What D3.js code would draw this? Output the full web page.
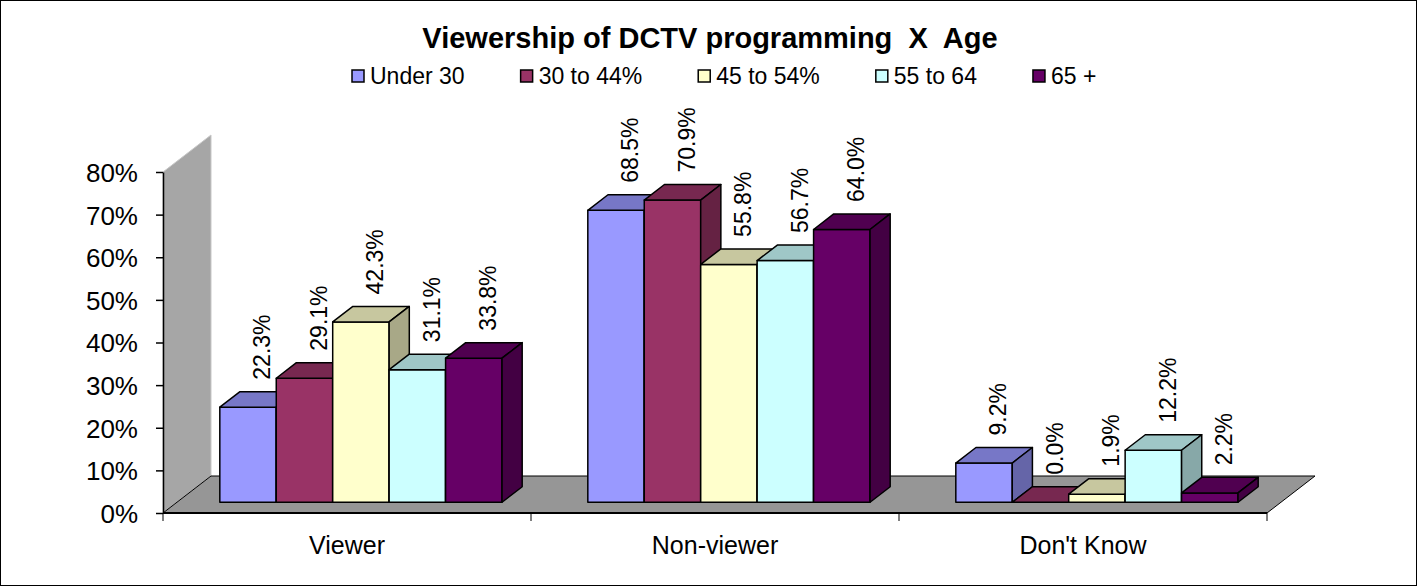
<!DOCTYPE html>
<html>
<head>
<meta charset="utf-8">
<script src="https://cdn.jsdelivr.net/npm/d3@7"></script>
<style>
  html, body { margin: 0; padding: 0; background: #fff; }
  svg text { font-family: "Liberation Sans", Arial, sans-serif; fill: #000; }
</style>
</head>
<body>
<svg id="chart" width="1418" height="587"></svg>
<script>
// chart values
const categories = ["Viewer", "Non-viewer", "Don't Know"]
const seriesNames = ["Under 30", "30 to 44%", "45 to 54%", "55 to 64", "65 +"]
const under30 = [22.3, 68.5, 9.2]
const age30to44 = [29.1, 70.9, 0.0]
const age45to54 = [42.3, 55.8, 1.9]
const age55to64 = [31.1, 56.7, 12.2]
const age65plus = [33.8, 64.0, 2.2]
const yTicks = [0, 10, 20, 30, 40, 50, 60, 70, 80]
const seriesColors = ["#9999ff", "#993366", "#ffffcc", "#ccffff", "#660066"]

const seriesValues = [under30, age30to44, age45to54, age55to64, age65plus]

/*
  Draws a clustered bar chart with a fake 3d look, like the old office charts
*/
class Bar3DChart {
  /**
   * constructor()
   * @description sets up the scales and the 3d offsets
   * @param {String} selector the svg to draw into
   */
  constructor(selector) {
    this._svg = d3.select(selector)
    this._plot = { left: 163, right: 1267, top: 172, bottom: 513 }
    // offset of the back wall, and of the bar front / back planes
    this._depth = { dx: 48, dy: -37 }
    this._front = 0.29
    this._back = 0.71

    this._y = d3.scaleLinear().domain([0, 80]).range([this._plot.bottom, this._plot.top])
    this._x = d3.scaleBand().domain(categories).range([this._plot.left, this._plot.right])
    this._xs = d3.scaleBand().domain(seriesNames).range([0, this._x.bandwidth()]).paddingOuter(0.76)
  }

  /**
   * shade()
   * @description darker version of a colour for the top and side faces
   */
  shade(color, k) {
    const c = d3.rgb(color)
    return d3.rgb(c.r * k, c.g * k, c.b * k).formatHex()
  }

  /**
   * drawBackground()
   * @description wall, floor, and the outer frame
   */
  drawBackground() {
    const p = this._plot, d = this._depth
    this._svg.append("rect")
      .attr("x", 0.5).attr("y", 0.5).attr("width", 1416).attr("height", 585)
      .style("fill", "#fff").style("stroke", "#000").style("stroke-width", 1)

    const wall = [[p.left, p.top], [p.left + d.dx, p.top + d.dy],
      [p.left + d.dx, p.bottom + d.dy], [p.left, p.bottom]]
    this._svg.append("polygon")
      .attr("points", wall.join(" "))
      .style("fill", "#a6a6a6").style("stroke", "#c8c8c8").style("stroke-width", 1)

    const floor = [[p.left, p.bottom], [p.left + d.dx, p.bottom + d.dy],
      [p.right + d.dx, p.bottom + d.dy], [p.right, p.bottom]]
    this._svg.append("polygon")
      .attr("points", floor.join(" "))
      .style("fill", "#969696").style("stroke", "#000").style("stroke-width", 1)
  }

  /**
   * drawAxes()
   * @description y axis with percent ticks, x axis with category names
   */
  drawAxes() {
    const p = this._plot
    const yAxis = d3.axisLeft(this._y)
      .tickValues(yTicks)
      .tickFormat(d => d + "%")
      .tickSize(7)
      .tickSizeOuter(0)
      .tickPadding(18)
    const gy = this._svg.append("g")
      .attr("transform", `translate(${p.left},0)`)
      .call(yAxis)
    gy.selectAll("text").style("font-size", "26px").attr("dy", "0.36em")
    gy.selectAll("line, path").style("stroke", "#000").style("stroke-width", 1.5)

    const xAxis = d3.axisBottom(this._x).tickSize(0).tickPadding(23)
    const gx = this._svg.append("g")
      .attr("transform", `translate(0,${p.bottom})`)
      .call(xAxis)
    gx.select(".domain").remove()
    gx.selectAll("text").style("font-size", "25px")

    this._svg.append("line")
      .attr("x1", p.left).attr("x2", p.right)
      .attr("y1", p.bottom).attr("y2", p.bottom)
      .style("stroke", "#000").style("stroke-width", 2)

    // separators between categories
    const edges = categories.map(c => this._x(c)).concat([this._x.range()[1]])
    this._svg.selectAll(".sep").data(edges).enter().append("line")
      .attr("class", "sep")
      .attr("x1", d => d).attr("x2", d => d)
      .attr("y1", p.bottom).attr("y2", p.bottom + 8)
      .style("stroke", "#000").style("stroke-width", 1)
  }

  /**
   * drawBars()
   * @description front, top and side face of every bar, plus its value
   */
  drawBars() {
    const d = this._depth
    const fx = d.dx * this._front, fy = d.dy * this._front
    const bx = d.dx * this._back, by = d.dy * this._back
    const w = this._xs.bandwidth()
    const y0 = this._y(0)
    const layer = this._svg.append("g")
    const labels = this._svg.append("g")

    categories.forEach((cat, ci) => {
      seriesNames.forEach((name, si) => {
        const v = seriesValues[si][ci]
        const x0 = this._x(cat) + this._xs(name) + fx
        const x1 = x0 + w
        const yt = this._y(v) + fy
        const yb = y0 + fy
        const col = seriesColors[si]
        const g = layer.append("g")
          .style("stroke", "#000").style("stroke-width", 1.5).style("stroke-linejoin", "round")
        const sx = bx - fx, sy = by - fy

        g.append("polygon")
          .attr("points", [[x0, yb], [x0, yt], [x1, yt], [x1, yb]].join(" "))
          .style("fill", col)
        g.append("polygon")
          .attr("points", [[x0, yt], [x0 + sx, yt + sy], [x1 + sx, yt + sy], [x1, yt]].join(" "))
          .style("fill", this.shade(col, 0.78))
        g.append("polygon")
          .attr("points", [[x1, yb], [x1, yt], [x1 + sx, yt + sy], [x1 + sx, yb + sy]].join(" "))
          .style("fill", this.shade(col, 0.66))

        const cx = (x0 + x1) / 2 + sx / 2 + 4
        labels.append("text")
          .attr("transform", `translate(${cx},${yt + sy - 12}) rotate(-90)`)
          .attr("dy", "0.36em")
          .style("font-size", "23px")
          .text(v.toFixed(1) + "%")
      })
    })
  }

  /**
   * drawLegend()
   * @description title and the row of series keys
   */
  drawLegend() {
    this._svg.append("text")
      .attr("x", 710).attr("y", 48)
      .attr("text-anchor", "middle")
      .style("font-size", "29px").style("font-weight", "bold")
      .text("Viewership of DCTV programming  X  Age")
      .attr("xml:space", "preserve")
      .style("white-space", "pre")

    let x = 352
    seriesNames.forEach((name, i) => {
      this._svg.append("rect")
        .attr("x", x).attr("y", 70).attr("width", 12).attr("height", 12)
        .style("fill", seriesColors[i]).style("stroke", "#000").style("stroke-width", 1.5)
      const t = this._svg.append("text")
        .attr("x", x + 18).attr("y", 84)
        .style("font-size", "23px")
        .text(name)
      x += 18 + t.node().getComputedTextLength() + 56
    })
  }

  create() {
    this.drawBackground()
    this.drawAxes()
    this.drawBars()
    this.drawLegend()
  }
}

new Bar3DChart("#chart").create()
</script>
</body>
</html>
